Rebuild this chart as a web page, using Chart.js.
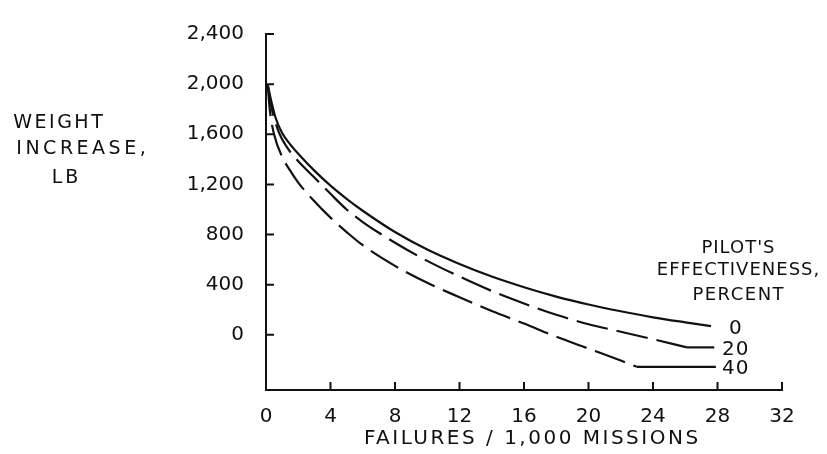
<!DOCTYPE html>
<html>
<head>
<meta charset="utf-8">
<script src="https://cdn.jsdelivr.net/npm/chart.js@4.4.1/dist/chart.umd.min.js"></script>
<style>
  body { margin: 0; background: #fff; }
  #wrap { width: 827px; height: 454px; position: relative; }
</style>
</head>
<body>
<div id="wrap"><canvas id="chart"></canvas></div>
<script>
// axis ticks
const xTicks = [0, 4, 8, 12, 16, 20, 24, 28, 32];
const yTicks = [0, 400, 800, 1200, 1600, 2000, 2400];
const yTickLabels = ['0', '400', '800', '1,200', '1,600', '2,000', '2,400'];

// pilot's effectiveness, percent
const seriesNames = ['0', '20', '40'];

// 0 percent (solid)
const failures0 = [0.1, 0.3, 0.6, 1, 1.5, 2, 3, 4, 5, 6, 8, 10, 12, 14, 16, 18, 20, 22, 24, 26, 27.6];
const weight0 = [2000, 1880, 1730, 1610, 1520, 1445, 1310, 1190, 1085, 990, 820, 680, 565, 465, 380, 305, 242, 188, 140, 100, 70];

// 20 percent (dashed)
const failures20 = [0.1, 0.4, 0.7, 1, 1.5, 2, 3, 4, 5, 6, 8, 10, 12, 14, 16, 18, 20, 22, 24, 26.1];
const weight20 = [2000, 1780, 1650, 1560, 1460, 1385, 1255, 1125, 1000, 900, 735, 590, 465, 350, 250, 160, 85, 25, -35, -100];

// 40 percent (dashed)
const failures40 = [0.1, 0.25, 0.5, 1, 1.5, 2, 3, 4, 5, 6, 8, 10, 12, 14, 16, 18, 20, 22, 23];
const weight40 = [2000, 1780, 1600, 1420, 1310, 1215, 1065, 935, 820, 715, 550, 415, 300, 190, 90, -15, -110, -205, -255];

// short leader lines from curve ends to labels
const leadX20 = [26.1, 27.8];
const leadY20 = [-100, -100];
const leadX40 = [23, 27.9];
const leadY40 = [-255, -255];

const labelX = 29.1;
const labelY = [68, -100, -255];

const ink = '#111';
const FONT = '"DejaVu Sans", sans-serif';

function pts(xs, ys) {
    return xs.map((v, i) => ({ x: v, y: ys[i] }));
}

function line(data, dash) {
    return {
        data: data,
        borderColor: ink,
        borderWidth: 2.2,
        borderDash: dash,
        pointRadius: 0,
        fill: false,
        cubicInterpolationMode: 'monotone'
    };
}

function drawText(ctx, text, cx, cy, size, spacing) {
    ctx.font = size + 'px ' + FONT;
    ctx.letterSpacing = spacing + 'px';
    const w = ctx.measureText(text).width - spacing;
    ctx.fillText(text, cx - w / 2, cy);
}

const annotations = {
    id: 'annotations',
    afterDraw(chart) {
        const { ctx, scales: { x, y } } = chart;
        ctx.save();
        // inward tick marks
        ctx.strokeStyle = ink;
        ctx.lineWidth = 2;
        ctx.beginPath();
        yTicks.forEach(v => {
            const py = y.getPixelForValue(v);
            ctx.moveTo(x.left, py);
            ctx.lineTo(x.left + 8, py);
        });
        xTicks.forEach(v => {
            const px = x.getPixelForValue(v);
            ctx.moveTo(px, y.bottom);
            ctx.lineTo(px, y.bottom - 8);
        });
        ctx.stroke();

        ctx.fillStyle = ink;
        ctx.textBaseline = 'middle';
        ctx.textAlign = 'left';

        // y axis title
        drawText(ctx, 'WEIGHT', 58, 123, 19, 2.5);
        drawText(ctx, 'INCREASE,', 81, 149, 19, 3.5);
        drawText(ctx, 'LB', 65, 178, 19, 3);

        // legend title
        drawText(ctx, "PILOT'S", 738, 248, 18, 1);
        drawText(ctx, 'EFFECTIVENESS,', 738, 270, 18, 1);
        drawText(ctx, 'PERCENT', 738, 295, 18, 1.5);

        // curve labels
        seriesNames.forEach((name, i) => {
            drawText(ctx, name, x.getPixelForValue(labelX), y.getPixelForValue(labelY[i]) + 2, 20, 1);
        });

        // x axis title
        drawText(ctx, 'FAILURES / 1,000 MISSIONS', 531, 439, 20, 2.5);
        ctx.restore();
    }
};

new Chart(document.getElementById('chart'), {
    type: 'line',
    data: {
        datasets: [
            line(pts(failures0, weight0), []),
            line(pts(failures20, weight20), [32, 9]),
            line(pts(failures40, weight40), [32, 9]),
            line(pts(leadX20, leadY20), []),
            line(pts(leadX40, leadY40), [])
        ]
    },
    options: {
        responsive: true,
        maintainAspectRatio: false,
        animation: false,
        layout: { padding: { top: 20, right: 45, left: 0, bottom: 0 } },
        plugins: {
            legend: { display: false },
            tooltip: { enabled: false }
        },
        scales: {
            x: {
                type: 'linear',
                min: 0,
                max: 32,
                afterBuildTicks: s => { s.ticks = xTicks.map(v => ({ value: v })); },
                afterFit: s => { s.height = 64; },
                grid: { display: true, drawOnChartArea: false, drawTicks: false },
                border: { display: true, color: ink, width: 2 },
                ticks: {
                    color: ink,
                    padding: 15,
                    maxRotation: 0,
                    font: { family: FONT, size: 20 }
                }
            },
            y: {
                type: 'linear',
                min: -440,
                max: 2400,
                afterBuildTicks: s => { s.ticks = yTicks.map(v => ({ value: v })); },
                afterFit: s => { s.width = 266; },
                grid: { display: true, drawOnChartArea: false, drawTicks: false },
                border: { display: true, color: ink, width: 2 },
                ticks: {
                    color: ink,
                    padding: 22,
                    font: { family: FONT, size: 20 },
                    callback: v => yTickLabels[yTicks.indexOf(v)]
                }
            }
        }
    },
    plugins: [annotations]
});
</script>
</body>
</html>
